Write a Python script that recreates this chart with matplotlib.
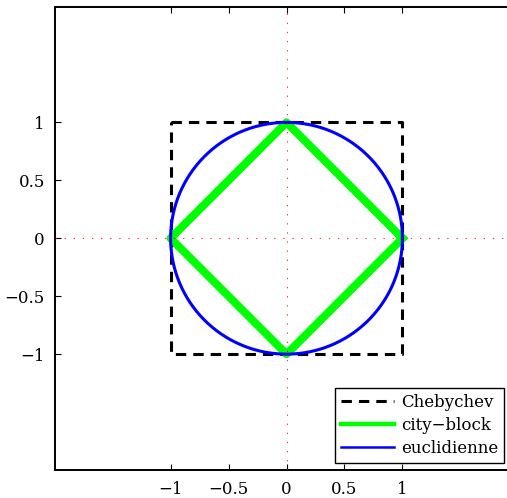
import numpy as np
import matplotlib.pyplot as plt

plt.rcParams.update({"font.family": "DejaVu Serif"})
plt.rcParams.update({"font.size": 12})
plt.rcParams.update({"axes.unicode_minus": True})

# unit balls for three distances
cheb_x = [-1, 1, 1, -1, -1]
cheb_y = [1, 1, -1, -1, 1]
city_x = [1, 0, -1, 0, 1]
city_y = [0, 1, 0, -1, 0]
radius = 1.0
labels = ["Chebychev", "city\u2212block", "euclidienne"]
ticks = [-1, -0.5, 0, 0.5, 1]

theta = np.linspace(0, 2 * np.pi, 400)

fig = plt.figure(figsize=(5.07, 4.98), dpi=100)
ax = fig.add_axes([0.1079, 0.0562, 0.9144, 0.9307])

ax.plot(cheb_x, cheb_y, "--", color="k", linewidth=2.2, dashes=(3.4, 2.3),
        label=labels[0])
ax.plot(city_x, city_y, "-", color=(0, 1, 0), linewidth=5.8, label=labels[1])
ax.plot(radius * np.cos(theta), radius * np.sin(theta), "-", color="b",
        linewidth=2.2, label=labels[2])

# dotted red axes through the origin
dots = (0, (1.2, 7))
ax.axhline(0, color="r", linestyle=dots, linewidth=0.8, alpha=0.8, zorder=5)
ax.axvline(0, color="r", linestyle=dots, linewidth=0.8, alpha=0.8, zorder=5)

ax.set_xlim(-2, 2)
ax.set_ylim(-2, 2)
ax.set_xticks(ticks)
ax.set_yticks(ticks)
ax.set_xticklabels(["\u22121", "\u22120.5", "0", "0.5", "1"])
ax.set_yticklabels(["\u22121", "\u22120.5", "0", "0.5", "1"])
ax.tick_params(direction="in", top=True, right=True, length=4, width=0.8)
ax.tick_params(axis="x", pad=8)
ax.tick_params(axis="y", pad=7)
for s in ax.spines.values():
    s.set_linewidth(1.4)

leg = ax.legend(loc="lower right", bbox_to_anchor=(0.9693, 0.0162),
                fancybox=False, framealpha=1, edgecolor="k",
                handlelength=3.2, borderpad=0.35, labelspacing=0.35,
                handletextpad=0.4, borderaxespad=0)
leg.get_frame().set_linewidth(1.0)
handle_widths = [2.2, 3.2, 1.8]
for h, w in zip(leg.get_lines(), handle_widths):
    h.set_linewidth(w)

fig.savefig("out.png", dpi=100)
